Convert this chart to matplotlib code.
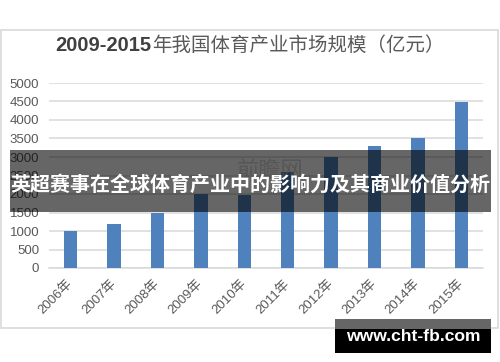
import matplotlib
matplotlib.use("Agg")
import matplotlib.pyplot as plt
from matplotlib.patches import Rectangle

plt.rcParams['font.family'] = ['Liberation Sans', 'Noto Sans CJK SC', 'DejaVu Sans']

years = ["2006年", "2007年", "2008年", "2009年", "2010年",
         "2011年", "2012年", "2013年", "2014年", "2015年"]
values = [1000, 1200, 1480, 2010, 1970, 2600, 3000, 3300, 3500, 4480]
yticks = [0, 500, 1000, 1500, 2000, 2500, 3000, 3500, 4000, 4500, 5000]

title_bold = "2009-2015"
title_rest = "年我国体育产业市场规模（亿元）"
overlay_text = "英超赛事在全球体育产业中的影响力及其商业价值分析"
site_text = "www.cht-fb.com"

W, H = 500, 362
fig = plt.figure(figsize=(W / 100, H / 100), dpi=100)
fig.patch.set_facecolor('white')

def fx(px):
    return px / W

def fy(py):
    return (H - py) / H

# chart frame
fig.patches.append(Rectangle((fx(1), fy(328)), fx(498) - fx(1), fy(30) - fy(328),
                             transform=fig.transFigure, facecolor='none',
                             edgecolor='#d9d9d9', lw=1.2, zorder=-1))

ax = fig.add_axes([fx(49), fy(268), fx(483) - fx(49), fy(83) - fy(268)])
ax.set_facecolor('none')
x = list(range(len(years)))
ax.bar(x, values, width=0.31, color='#4f81bd', zorder=3)
ax.set_xlim(-0.5, len(years) - 0.5)
ax.set_ylim(0, 5000)
ax.set_yticks(yticks)
ax.set_yticklabels([str(v) for v in yticks])
ax.yaxis.grid(True, color='#d9d9d9', lw=1.1, zorder=0)
ax.set_axisbelow(True)
for s in ['top', 'right', 'left']:
    ax.spines[s].set_visible(False)
ax.spines['bottom'].set_color('#d9d9d9')
ax.spines['bottom'].set_linewidth(1.1)
ax.tick_params(axis='both', length=0, colors='#595959', labelsize=9.5)
ax.tick_params(axis='y', pad=7)
ax.set_xticks(x)
ax.set_xticklabels(years, rotation=45, ha='right', rotation_mode='anchor',
                   va='center')
ax.tick_params(axis='x', pad=10)

# title (mixed weights)
t1 = fig.text(fx(55), fy(51), title_bold, fontsize=14.5, fontweight='bold',
              color='#404040', ha='left', va='baseline')
fig.canvas.draw()
bb = t1.get_window_extent(fig.canvas.get_renderer())
fig.text(bb.x1 / W + 0.002, fy(51), title_rest, fontsize=14, color='#595959',
         ha='left', va='baseline')

# watermark (under overlay)
fig.text(fx(270), fy(170), "前瞻网", fontsize=16, color='#c8c8c8',
         ha='center', va='center', alpha=0.7, zorder=4,
         family=['Noto Sans CJK SC'])

# dark overlay band
fig.patches.append(Rectangle((fx(10), fy(211.7)), fx(491) - fx(10), fy(150) - fy(211.7),
                             transform=fig.transFigure, facecolor='black',
                             alpha=0.6, edgecolor='none', zorder=10))
fig.text(fx(250), fy(184), overlay_text, fontsize=14.4, fontweight='bold',
         color='white', ha='center', va='center', zorder=11,
         family=['Noto Sans CJK SC', 'DejaVu Sans'])

# website box
fig.patches.append(Rectangle((fx(335), fy(352.7)), fx(491) - fx(335), fy(329) - fy(352.7),
                             transform=fig.transFigure, facecolor='black',
                             edgecolor='none', zorder=10))
fig.patches.append(Rectangle((fx(335), fy(329)), fx(491) - fx(335), fy(319) - fy(329),
                             transform=fig.transFigure, facecolor='#666666',
                             edgecolor='none', zorder=10))
fig.text(fx(413), fy(336.7), site_text, fontsize=12.6, fontweight='bold',
         color='white', ha='center', va='center', zorder=11)

fig.savefig("out.png", dpi=100, facecolor='white')
